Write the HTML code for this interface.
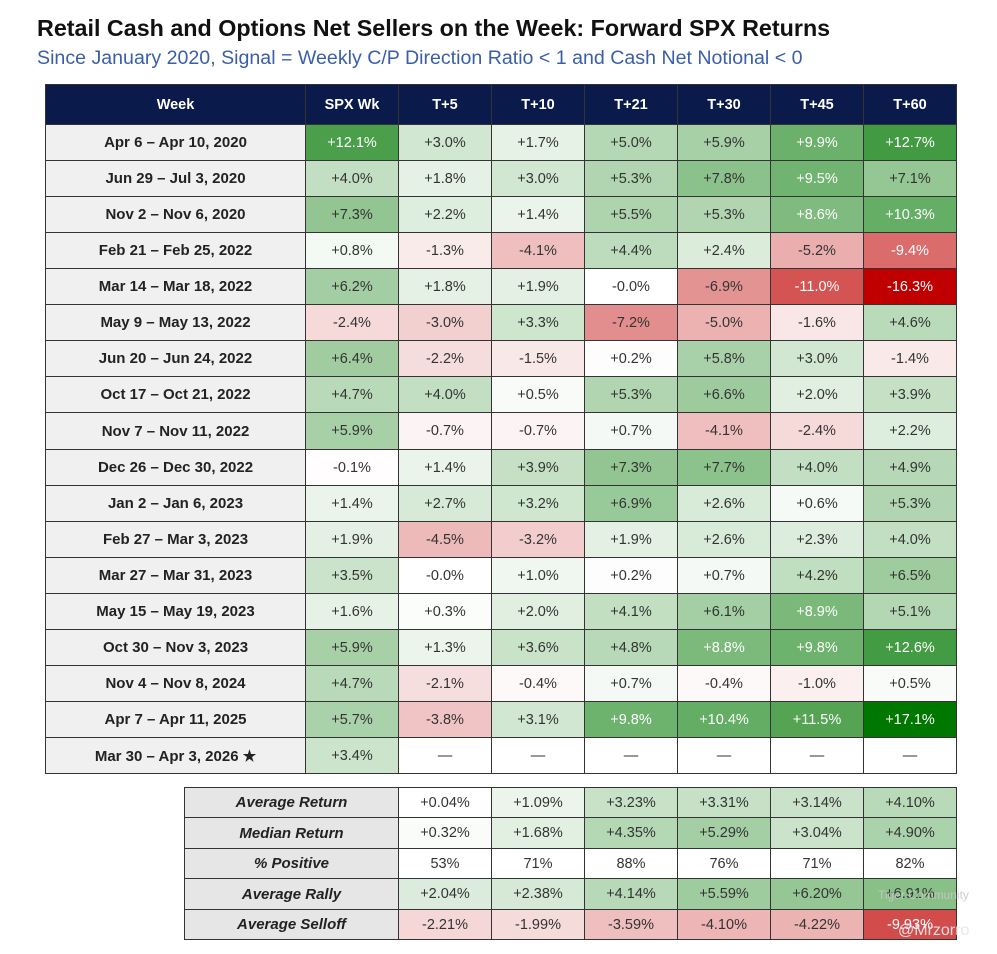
<!DOCTYPE html>
<html><head><meta charset="utf-8"><style>
body{margin:0;width:997px;height:954px;background:#fff;font-family:"Liberation Sans",Arial,sans-serif;position:relative;overflow:hidden}
.t{position:absolute;white-space:nowrap}
.c{position:absolute;box-sizing:border-box;border:1px solid #333;display:flex;align-items:center;justify-content:center;font-size:14.5px;color:#333}
.h{background:#0a1a4a;color:#fff;font-weight:bold;font-size:14.5px}
.w{background:#f0f0f0;font-weight:bold;color:#222;font-size:15px}
.s{background:#e6e6e6;font-weight:bold;font-style:italic;color:#222;font-size:15px}
</style></head><body>
<div class="t" style="left:37px;top:15px;font-size:23.3px;font-weight:bold;color:#111">Retail Cash and Options Net Sellers on the Week: Forward SPX Returns</div>
<div class="t" style="left:37px;top:47px;font-size:19.6px;color:#3a5fa8">Since January 2020, Signal = Weekly C/P Direction Ratio &lt; 1 and Cash Net Notional &lt; 0</div>
<div id="tbl"></div>
<div class="t" style="left:878px;top:888px;font-size:12px;color:rgba(200,200,200,.9)">Tiger Community</div>
<div class="t" style="left:898px;top:922px;font-size:16px;color:rgba(230,230,230,.95)">@Mrzorro</div>
<script>
const headers=["Week","SPX Wk","T+5","T+10","T+21","T+30","T+45","T+60"];
const weeks=["Apr 6 – Apr 10, 2020","Jun 29 – Jul 3, 2020","Nov 2 – Nov 6, 2020","Feb 21 – Feb 25, 2022","Mar 14 – Mar 18, 2022","May 9 – May 13, 2022","Jun 20 – Jun 24, 2022","Oct 17 – Oct 21, 2022","Nov 7 – Nov 11, 2022","Dec 26 – Dec 30, 2022","Jan 2 – Jan 6, 2023","Feb 27 – Mar 3, 2023","Mar 27 – Mar 31, 2023","May 15 – May 19, 2023","Oct 30 – Nov 3, 2023","Nov 4 – Nov 8, 2024","Apr 7 – Apr 11, 2025","Mar 30 – Apr 3, 2026 ★"];
const spxWk=[12.1,4.0,7.3,0.8,6.2,-2.4,6.4,4.7,5.9,-0.1,1.4,1.9,3.5,1.6,5.9,4.7,5.7,3.4];
const t5=[3.0,1.8,2.2,-1.3,1.8,-3.0,-2.2,4.0,-0.7,1.4,2.7,-4.5,-0.0,0.3,1.3,-2.1,-3.8,null];
const t10=[1.7,3.0,1.4,-4.1,1.9,3.3,-1.5,0.5,-0.7,3.9,3.2,-3.2,1.0,2.0,3.6,-0.4,3.1,null];
const t21=[5.0,5.3,5.5,4.4,-0.0,-7.2,0.2,5.3,0.7,7.3,6.9,1.9,0.2,4.1,4.8,0.7,9.8,null];
const t30=[5.9,7.8,5.3,2.4,-6.9,-5.0,5.8,6.6,-4.1,7.7,2.6,2.6,0.7,6.1,8.8,-0.4,10.4,null];
const t45=[9.9,9.5,8.6,-5.2,-11.0,-1.6,3.0,2.0,-2.4,4.0,0.6,2.3,4.2,8.9,9.8,-1.0,11.5,null];
const t60=[12.7,7.1,10.3,-9.4,-16.3,4.6,-1.4,3.9,2.2,4.9,5.3,4.0,6.5,5.1,12.6,0.5,17.1,null];
const sumLabels=["Average Return","Median Return","% Positive","Average Rally","Average Selloff"];
const avgReturn=[0.04,1.09,3.23,3.31,3.14,4.10];
const medReturn=[0.32,1.68,4.35,5.29,3.04,4.90];
const pctPositive=[53,71,88,76,71,82];
const avgRally=[2.04,2.38,4.14,5.59,6.20,6.91];
const avgSelloff=[-2.21,-1.99,-3.59,-4.10,-4.22,-9.93];

const tbl=document.getElementById('tbl');
const colX=[45,305,398,491,584,677,770,863,956];
function color(v,k){if(v==null)return '#fff';
 if(v>=0){let t=Math.min(1,v*k/17.1);return `rgb(${Math.round(255-255*t)},${Math.round(255-135*t)},${Math.round(255-255*t)})`;}
 let t=Math.min(1,-v*k/16.3);return `rgb(${Math.round(255-63*t)},${Math.round(255-255*t)},${Math.round(255-255*t)})`;}
function fmt(v,d){if(v==null)return '—';const neg=v<0||Object.is(v,-0);return (neg?'-':'+')+Math.abs(v).toFixed(d)+'%';}
function cell(x,y,w,h,txt,cls,bg,fg,name){const d=document.createElement('div');d.className='c '+(cls||'');
 d.style.left=x+'px';d.style.top=y+'px';d.style.width=(w+1)+'px';d.style.height=(h+1)+'px';
 if(bg)d.style.background=bg;if(fg)d.style.color=fg;d.textContent=txt;
 
 
 tbl.appendChild(d);}
headers.forEach((h,i)=>cell(colX[i],84,colX[i+1]-colX[i],40,h,'h',null,null,'header-'+h.toLowerCase().replace(/[^a-z0-9]+/g,'-')));
const series=[spxWk,t5,t10,t21,t30,t45,t60];
const rh=36.06;
weeks.forEach((w,r)=>{const y=Math.round(124+r*rh),y2=Math.round(124+(r+1)*rh);
 cell(colX[0],y,colX[1]-colX[0],y2-y,w,'w',null,null,'week-label');
 series.forEach((s,c)=>{const v=s[r];cell(colX[c+1],y,colX[c+2]-colX[c+1],y2-y,fmt(v,1),'',color(v,1),(v!=null&&Math.abs(v)>8.4)?'#fff':'#333','return-cell');});});
const sums=[avgReturn,medReturn,pctPositive,avgRally,avgSelloff];
const sh=30.4;
sums.forEach((arr,r)=>{const y=Math.round(787+r*sh),y2=Math.round(787+(r+1)*sh);
 cell(184,y,colX[2]-184,y2-y,sumLabels[r],'s',null,null,'summary-label');
 arr.forEach((v,c)=>{const pct=r==2;const txt=pct?v+'%':fmt(v,2);
  cell(colX[c+2],y,colX[c+3]-colX[c+2],y2-y,txt,'',pct?'#fff':color(v,1.15),(!pct&&v<-7)?'#fff':'#333','summary-cell');});});
</script>
</body></html>
